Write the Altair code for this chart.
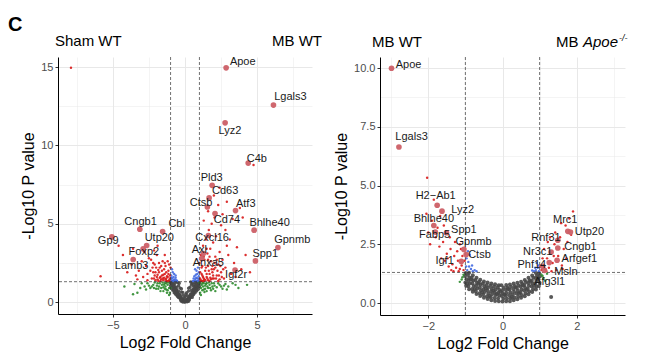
import altair as alt
import pandas as pd

# ---------------- Left panel: Sham WT vs MB WT ----------------
L_grey = [(0,0.02),(0.05,0.05),(-0.05,0.04),(0.1,0.08),(-0.1,0.1),(0.15,0.15),(-0.15,0.12),(0.2,0.12),(-0.2,0.2),
          (0.25,0.25),(-0.25,0.18),(0.3,0.2),(-0.3,0.3),(0.35,0.35),(-0.35,0.25),(0.4,0.3),(-0.4,0.45),(0.45,0.5),
          (-0.45,0.3),(0.5,0.4),(-0.5,0.55),(0.55,0.6),(-0.55,0.4),(0.6,0.5),(-0.6,0.7),(0.65,0.75),(-0.65,0.5),
          (0.7,0.6),(-0.7,0.85),(0.75,0.9),(-0.75,0.6),(0.8,0.7),(-0.8,1.0),(0.85,1.05),(-0.85,0.75),(0.9,0.8),
          (-0.9,1.15),(0.95,1.2),(-0.95,0.9),(1.0,1.0),(-1.0,1.25),(0.12,0.03),(-0.12,0.06),(0.22,0.18),(-0.22,0.14),
          (0.32,0.28),(-0.32,0.22),(0.42,0.4),(-0.42,0.35),(0.52,0.5),(-0.52,0.45),(0.62,0.65),(-0.62,0.58),
          (0.72,0.78),(-0.72,0.7),(0.82,0.92),(-0.82,0.88),(0.92,1.1),(-0.92,1.05),(0.97,1.28),(-0.97,1.2),
          (0.88,1.25),(-0.88,1.28),(0.78,1.15),(-0.78,1.12),(0.68,1.0),(-0.68,0.95),(0.58,0.8),(-0.58,0.78),
          (0.48,0.65),(-0.48,0.6),(0.38,0.5),(-0.38,0.48),(0.28,0.35),(-0.28,0.33),(0.18,0.22),(-0.18,0.2),
          (0.08,0.12),(-0.08,0.1),(0.02,0.08),(-0.02,0.01),
          (-0.25,0.05),(0.25,0.06),(-0.15,0.0),(0.15,0.02),(0,0.15),(0.3,0.15),(-0.3,0.12),
          (-0.5,0.35),(0.5,0.3),(-0.35,0.4),(0.35,0.42),(0,0.35),(-0.15,0.45),(0.15,0.4),(-0.55,0.5),(0.55,0.45),
          (0.05,0.5),(-0.05,0.28),(-0.7,0.65),(0.7,0.7),(-0.45,0.7),(0.45,0.75),(-0.25,0.65),(0.25,0.7),(-0.6,0.8),
          (0.6,0.8),(-0.8,0.8),(0.8,0.85),(-0.15,0.62),(0.12,0.6),(-0.9,0.95),(0.9,1.0),(-0.6,0.95),(0.6,1.0),
          (-0.35,0.9),(0.35,0.95),(-0.75,1.05),(0.75,1.05),(-0.45,1.05),(0.45,1.1),(-0.25,0.85),(0.25,0.88),
          (-0.95,1.15),(0.95,1.1),(-0.7,1.2),(0.7,1.25),(-0.5,1.25),(0.5,1.2),(-0.85,1.3),(0.85,1.3),(-0.4,1.2),
          (0.4,1.28),(-0.6,1.3),(0.6,1.15),(-1.0,1.05),(1.0,1.2)]
L_green = [(-1.1,0.9),(-1.2,1.1),(-1.3,0.8),(-1.4,1.2),(-1.5,0.95),(-1.6,1.1),(-1.7,0.7),(-1.8,1.0),(-1.9,1.2),
           (-2.0,0.85),(-2.2,1.1),(-2.4,0.9),(-2.6,1.2),(-2.8,1.0),(-3.1,0.9),(-3.5,1.15),(-4.2,1.0),(-1.15,1.25),
           (-1.35,1.0),(-1.25,0.6),(1.1,0.9),(1.2,1.2),(1.3,0.8),(1.4,1.05),(1.5,1.2),(1.6,0.9),(1.7,1.1),
           (1.8,0.75),(1.9,1.0),(2.0,1.2),(2.2,0.95),(2.4,1.1),(2.6,0.85),(2.8,1.15),(3.0,1.0),(3.3,1.2),
           (3.7,0.9),(1.15,1.1),(1.35,0.65),(1.25,1.0),(2.1,0.7),(4.3,1.1),
           (-1.05,0.6),(-1.1,0.45),(-1.2,0.75),(-1.3,1.2),(-1.4,0.85),(-1.5,0.7),(-1.55,1.25),(-1.65,0.9),
           (-1.75,1.2),(-1.85,0.85),(-1.95,1.05),(-2.1,1.25),(-2.15,0.9),(-2.3,1.0),(-2.5,1.05),(-2.7,0.8),
           (-3.0,1.2),(-3.3,0.6),(-3.6,0.5),(-1.0,0.9),(-1.45,1.1),(-1.25,1.3),
           (1.05,0.6),(1.1,0.45),(1.2,0.75),(1.3,1.2),(1.4,0.85),(1.5,0.7),(1.55,1.0),(1.65,1.25),(1.75,0.9),
           (1.85,1.2),(1.95,0.85),(2.05,1.05),(2.3,1.2),(2.5,1.0),(2.7,1.05),(1.0,1.25),(1.45,1.15),(1.25,1.3),
           (2.9,0.8),(3.5,1.1)]
L_blue = [(-0.7,1.4),(-0.8,1.6),(-0.9,1.5),(-0.6,1.4),(-0.85,1.9),(-0.95,1.7),(-0.75,1.45),(-0.9,2.1),(0.7,1.4),
          (0.8,1.55),(0.9,1.5),(0.65,1.35),(0.85,1.8),(0.95,1.65),(0.75,1.5),(0.9,2.2),(0.6,1.5),(-0.65,1.55),
          (0.95,1.4),(-0.95,1.4),(-0.75,1.8),(-0.65,1.7),(-0.7,1.35),(-0.95,1.55),(-0.82,1.35),(0.75,1.75),
          (0.65,1.65),(0.8,2.0),(0.97,1.9),(0.85,1.35),(0.7,2.1),(-0.55,1.35),(0.55,1.35)]
L_red = [(-1.1,1.4),(-1.2,1.6),(-1.3,1.5),(-1.4,1.8),(-1.5,1.4),(-1.6,2.0),(-1.7,1.6),(-1.8,1.9),(-1.9,1.45),
         (-2.0,2.2),(-2.1,1.7),(-2.2,2.5),(-2.3,1.5),(-2.4,2.0),(-2.5,2.8),(-2.6,1.8),(-2.7,2.3),(-2.9,1.6),
         (-3.0,2.6),(-3.2,2.0),(-3.4,1.7),(-3.7,2.4),(-4.0,1.9),(-4.3,3.0),(-5.85,1.65),(-1.15,2.0),(-1.35,2.3),
         (-1.55,2.6),(-1.75,2.2),(-1.95,3.0),(-2.15,3.3),(-2.35,2.7),(-1.25,1.35),(-1.45,1.55),(-1.65,1.45),
         (-1.85,1.35),(-2.05,1.4),(-1.05,1.7),(-1.2,2.6),(-2.8,3.2),(-3.6,3.4),(-4.6,3.6),(-1.9,3.6),(-1.4,3.0),
         (-2.6,1.4),(-3.3,1.45),(-1.1,2.4),(-1.3,1.9),(-2.2,1.9),(-1.6,1.7),
         (-1.05,1.5),(-1.15,1.8),(-1.25,1.65),(-1.35,1.45),(-1.45,2.1),(-1.55,1.5),(-1.65,2.3),(-1.75,1.55),
         (-1.85,2.05),(-1.95,1.6),(-2.05,1.9),(-2.15,1.5),(-2.25,2.2),(-1.1,1.35),(-1.3,1.35),(-1.5,1.75),
         (-1.7,1.35),(-1.9,1.75),(-2.1,2.4),(-1.0,2.2),(-1.4,2.5),(-1.8,2.5),
         (1.1,1.4),(1.2,1.7),(1.3,1.5),(1.4,2.0),(1.5,1.6),(1.6,2.3),(1.7,1.8),(1.8,2.6),(1.9,1.5),(2.0,2.1),
         (2.1,2.9),(2.2,1.7),(2.3,2.4),(2.4,3.2),(2.5,1.9),(2.6,2.7),(2.8,2.2),(3.0,3.0),(3.2,1.8),(3.4,2.5),
         (3.6,3.5),(3.9,2.1),(4.2,3.0),(4.5,1.9),(1.15,2.2),(1.35,2.7),(1.55,3.1),(1.75,3.4),(1.95,3.8),
         (2.15,4.2),(1.25,3.6),(1.45,4.0),(1.65,4.6),(1.85,5.0),(2.05,5.4),(1.3,5.2),(1.6,5.8),(2.3,6.2),
         (2.6,5.6),(2.0,6.8),(2.4,7.3),(2.9,6.4),(3.3,5.3),(3.8,6.0),(4.0,5.4),(2.8,4.6),(3.1,4.0),(2.5,4.9),
         (1.1,3.0),(1.05,1.9),(1.2,1.35),(1.4,1.4),(1.6,1.4),(1.8,1.45),(2.0,1.5),(2.3,1.35),(2.7,1.5),
         (3.5,1.6),(1.7,2.9),(2.9,3.6),(4.75,8.75),(-7.9,14.95),
         (1.05,1.5),(1.15,1.8),(1.25,1.6),(1.35,1.45),(1.45,2.2),(1.55,1.5),(1.65,2.0),(1.75,1.55),(1.85,2.1),
         (1.95,1.7),(2.05,2.5),(2.15,1.5),(2.25,2.0),(2.35,1.7),(2.45,2.3),(2.55,1.6),(2.65,2.1),(1.1,1.35),
         (1.3,1.35),(1.5,1.8),(1.7,1.35),(1.9,1.9),(2.1,2.2),(1.0,2.5),(1.3,2.9),(1.6,2.7),(1.9,2.3),(2.2,2.7),
         (2.4,1.45),(1.2,2.3),(1.5,3.4)]
# labelled genes: name, fold change, -log10 p, label x, label y
L_genes = [("Apoe",2.85,14.95,4.0,15.35),("Lgals3",6.13,12.57,7.3,13.08),("Lyz2",2.78,11.44,3.12,10.9),
           ("C4b",4.38,8.87,4.98,9.15),("Pld3",1.88,7.45,1.85,7.94),("Cd63",1.67,6.65,2.78,7.09),
           ("Ctsb",1.55,6.07,1.11,6.35),("Atf3",3.5,5.84,4.21,6.29),("Cd74",2.08,5.65,2.9,5.22),
           ("Bhlhe40",4.79,4.59,5.86,5.05),("Gpnmb",6.44,3.48,7.43,3.95),("Spp1",4.88,2.63,5.56,3.04),
           ("Cxcl16",1.62,4.25,1.88,4.12),("Axl",1.27,3.1,0.99,3.31),("Anxa5",1.16,2.78,1.62,2.5),
           ("Igf2r",3.47,2.04,3.54,1.72),("Cngb1",-3.13,4.65,-3.08,5.11),("Cbl",-1.55,4.5,-0.58,4.97),
           ("Gp9",-5.07,4.16,-5.32,3.89),("Utp20",-2.66,3.61,-1.78,4.08),("Foxp2",-2.9,3.4,-2.85,3.2),
           ("Lamb3",-3.59,2.72,-3.7,2.31)]

# ---------------- Right panel: MB WT vs MB Apoe-/- ----------------
R_grey = [(0.0,0.06),(0.02,0.18),(-0.02,0.3),(0.01,0.42),(-0.01,0.54),(0.03,0.65),(-0.03,0.76),
          (0.1,0.07),(0.12,0.19),(0.08,0.31),(0.11,0.43),(0.09,0.55),(0.13,0.66),(0.1,0.77),
          (-0.1,0.08),(-0.12,0.2),(-0.08,0.32),(-0.11,0.44),(-0.09,0.56),(-0.13,0.67),(-0.1,0.76),
          (0.2,0.08),(0.22,0.2),(0.18,0.33),(0.21,0.45),(0.19,0.57),(0.23,0.69),(0.2,0.79),
          (-0.2,0.09),(-0.22,0.21),(-0.18,0.34),(-0.21,0.46),(-0.19,0.58),(-0.23,0.7),(-0.2,0.8),
          (0.3,0.12),(0.32,0.24),(0.28,0.36),(0.31,0.48),(0.29,0.6),(0.33,0.72),(0.3,0.83),
          (-0.3,0.12),(-0.32,0.25),(-0.28,0.37),(-0.31,0.49),(-0.29,0.61),(-0.33,0.73),(-0.3,0.83),
          (0.4,0.16),(0.42,0.28),(0.38,0.4),(0.41,0.52),(0.39,0.64),(0.43,0.76),(0.4,0.86),
          (-0.4,0.17),(-0.42,0.29),(-0.38,0.41),(-0.41,0.53),(-0.39,0.65),(-0.43,0.77),(-0.4,0.87),
          (0.5,0.22),(0.52,0.34),(0.48,0.46),(0.51,0.58),(0.49,0.7),(0.53,0.82),(0.5,0.91),
          (-0.5,0.22),(-0.52,0.35),(-0.48,0.47),(-0.51,0.59),(-0.49,0.71),(-0.53,0.83),(-0.5,0.92),
          (0.6,0.29),(0.62,0.41),(0.58,0.53),(0.61,0.65),(0.59,0.77),(0.63,0.89),(0.6,0.98),
          (-0.6,0.3),(-0.62,0.42),(-0.58,0.54),(-0.61,0.66),(-0.59,0.78),(-0.63,0.9),(-0.6,0.99),
          (0.7,0.37),(0.72,0.49),(0.68,0.61),(0.71,0.73),(0.69,0.85),(0.73,0.97),(0.7,1.07),
          (-0.7,0.38),(-0.72,0.5),(-0.68,0.62),(-0.71,0.74),(-0.69,0.86),(-0.73,0.98),(-0.7,1.08),
          (0.8,0.47),(0.82,0.59),(0.78,0.71),(0.81,0.83),(0.79,0.95),(0.83,1.07),(0.8,1.17),
          (-0.8,0.48),(-0.82,0.6),(-0.78,0.72),(-0.81,0.84),(-0.79,0.96),(-0.83,1.08),(-0.8,1.18),
          (0.9,0.58),(0.92,0.7),(0.88,0.82),(0.91,0.94),(0.89,1.06),(0.93,1.18),(0.9,1.28),
          (-0.9,0.59),(-0.92,0.71),(-0.88,0.83),(-0.91,0.95),(-0.89,1.07),(-0.93,1.19),(-0.9,1.29),
          (0.98,0.72),(1.0,0.86),(0.97,1.0),(1.01,1.14),(0.99,1.27),
          (-0.98,0.73),(-1.0,0.87),(-0.97,1.01),(-1.01,1.15),(-0.99,1.28),
          (0.05,0.36),(-0.05,0.48),(0.15,0.6),(-0.15,0.38),(0.25,0.26),(-0.25,0.52),(0.35,0.66),(-0.35,0.3),
          (0.45,0.4),(-0.45,0.62),(0.55,0.75),(-0.55,0.45),(0.65,0.55),(-0.65,0.82),(0.75,0.9),(-0.75,0.6),
          (0.85,0.72),(-0.85,1.0),(0.95,1.1),(-0.95,0.82),(1.31,0.26)]
R_green = [(-1.1,1.0),(-1.05,1.2),(-1.15,0.9),(-1.08,1.1),(1.1,1.05),(1.05,1.2),(1.15,0.95),(1.08,1.15),(1.2,1.25)]
R_blue = [(-0.95,1.4),(-0.9,1.55),(-0.85,1.45),(-0.8,1.35),(-0.92,1.75),(-0.97,1.9),(-0.88,2.05),(-0.75,1.4),
          (-0.82,1.6),(-0.98,1.55),(-0.7,1.35),(-0.93,2.2),(0.9,1.4),(0.95,1.5),(0.85,1.35),(0.97,1.6),(0.92,1.7),
          (0.8,1.38),(0.88,1.5),(0.98,1.35)]
R_red = [(-1.05,1.4),(-1.1,1.6),(-1.15,1.45),(-1.2,1.8),(-1.25,1.5),(-1.3,2.0),(-1.35,1.65),(-1.4,2.3),(-1.45,1.55),
         (-1.5,2.1),(-1.55,1.8),(-1.6,2.6),(-1.65,1.9),(-1.7,2.4),(-1.75,3.2),(-1.8,2.8),(-1.9,3.5),(-2.0,3.0),
         (-2.05,3.8),(-1.08,2.0),(-1.12,2.3),(-1.18,1.35),(-1.28,2.6),(-1.38,1.4),(-1.42,2.8),(-1.58,3.3),
         (-1.68,3.7),(-1.85,4.4),(-2.03,5.33),(-1.22,2.2),(-1.32,1.35),(-1.48,1.9),(-1.95,2.5),(-1.02,1.8),(-1.15,2.5),
         (1.05,1.4),(1.1,1.6),(1.15,1.45),(1.2,1.9),(1.25,1.5),(1.3,2.1),(1.35,1.7),(1.4,2.5),(1.45,1.4),(1.5,2.0),
         (1.55,2.8),(1.6,1.6),(1.65,2.3),(1.7,3.3),(1.75,2.6),(1.8,3.6),(1.85,2.9),(1.9,3.9),(1.12,2.3),(1.22,2.6),
         (1.32,1.35),(1.42,3.0),(1.58,3.4),(1.08,1.9),(1.18,1.35),(1.28,2.8),(1.38,2.0),(1.62,1.45),(1.72,1.9),(1.02,1.55)]
R_genes = [("Apoe",-2.99,9.99,-2.53,10.11),("Lgals3",-2.79,6.64,-2.45,7.06),("H2\u2212Ab1",-1.76,4.16,-1.8,4.54),
           ("Lyz2",-1.63,3.91,-1.07,3.97),("Bhlhe40",-1.85,3.3,-1.85,3.56),("Fabp5",-1.81,3.02,-1.83,2.88),
           ("Spp1",-1.51,2.99,-1.04,3.09),("Gpnmb",-1.04,2.28,-0.78,2.6),("Ctsb",-0.98,2.06,-0.62,2.03),
           ("Igf1",-1.11,1.77,-1.56,1.77),("Mrc1",1.76,3.05,1.69,3.55),("Utp20",1.83,3.02,2.34,3.02),
           ("Rnf31",1.49,2.67,1.17,2.77),("Cngb1",1.49,2.34,2.1,2.38),("Nr3c1",1.31,2.17,0.95,2.17),
           ("Arfgef1",1.47,1.82,2.07,1.89),("Phf14",1.08,1.56,0.79,1.6),("Msln",1.26,1.72,1.71,1.32),
           ("Afg3l1",1.13,1.39,1.27,0.89)]

FC_CUTOFF = [-1, 1]
P_CUTOFF = [1.30103]

FONT = "Liberation Sans"
GREY, GREEN, BLUE, RED, HIT = "#474747", "#2e8b2e", "#4169e1", "#d81818", "#cc5f66"


def pts(lst):
    return pd.DataFrame(lst, columns=["x", "y"])


def panel(grey, green, blue, red, genes, xdom, ydom, xvals, yvals, xmaj, ymaj, yfmt, w, h, sizes):
    minor_x = f"datum.value % {xmaj} !== 0"
    minor_y = f"datum.value % {ymaj} !== 0"
    xaxis = alt.Axis(title="Log2 Fold Change", values=xvals,
                     labelExpr=f"datum.value % {xmaj} === 0 ? format(datum.value, 'd') : ''",
                     tickOpacity={"condition": {"test": minor_x, "value": 0}, "value": 1},
                     gridWidth={"condition": {"test": minor_x, "value": 0.5}, "value": 1.0},
                     titlePadding=4)
    yaxis = alt.Axis(title="-Log10 P value", values=yvals,
                     labelExpr=f"datum.value % {ymaj} === 0 ? format(datum.value, '{yfmt}') : ''",
                     tickOpacity={"condition": {"test": minor_y, "value": 0}, "value": 1},
                     gridWidth={"condition": {"test": minor_y, "value": 0.5}, "value": 1.0},
                     titlePadding=4)
    X = alt.X("x:Q", scale=alt.Scale(domain=xdom, nice=False, zero=False), axis=xaxis)
    Y = alt.Y("y:Q", scale=alt.Scale(domain=ydom, nice=False, zero=False), axis=yaxis)
    gs, cs, hs = sizes
    layers = [
        alt.Chart(pts(grey)).mark_circle(color=GREY, size=gs, opacity=0.9).encode(x=X, y=Y),
        alt.Chart(pts(green)).mark_circle(color=GREEN, size=cs, opacity=0.9).encode(x=X, y=Y),
        alt.Chart(pts(blue)).mark_circle(color=BLUE, size=cs, opacity=0.9).encode(x=X, y=Y),
        alt.Chart(pts(red)).mark_circle(color=RED, size=cs, opacity=0.9).encode(x=X, y=Y),
        alt.Chart(pd.DataFrame({"x": FC_CUTOFF})).mark_rule(color="#333333", strokeDash=[3, 2], strokeWidth=0.7).encode(x=X),
        alt.Chart(pd.DataFrame({"y": P_CUTOFF})).mark_rule(color="#333333", strokeDash=[3, 2], strokeWidth=0.7).encode(y=Y),
    ]
    gdf = pd.DataFrame(genes, columns=["gene", "x", "y", "lx", "ly"])
    layers.append(alt.Chart(gdf).mark_circle(color=HIT, size=hs, opacity=0.95).encode(x=X, y=Y))
    ldf = gdf[["gene", "lx", "ly"]].rename(columns={"lx": "x", "ly": "y"})
    layers.append(alt.Chart(ldf).mark_text(font=FONT, fontSize=11, color="#1a1a1a").encode(x=X, y=Y, text="gene:N"))
    return layers, w, h


one = pd.DataFrame({"a": [0]})


def note(text, x, y, size=15, align="left", style="normal", weight="normal"):
    return alt.Chart(one).mark_text(text=text, font=FONT, fontSize=size, align=align, baseline="alphabetic",
                                    fontStyle=style, fontWeight=weight, color="black").encode(
        x=alt.value(x), y=alt.value(y))


l_layers, lw, lh = panel(L_grey, L_green, L_blue, L_red, L_genes, [-8.8, 8.8], [-0.76, 15.64],
                         [-7.5, -5, -2.5, 0, 2.5, 5, 7.5], [0, 2.5, 5, 7.5, 10, 12.5, 15], 5, 5, "d",
                         254, 257, (12, 6, 32))
l_layers += [note("C", -50, -26, size=20, weight="bold"), note("Sham WT", -3, -11),
             note("MB WT", 264, -11, align="right")]
left = alt.layer(*l_layers).properties(width=lw, height=lh)

r_layers, rw, rh = panel(R_grey, R_green, R_blue, R_red, R_genes, [-3.3, 3.3], [-0.51, 10.47],
                         [-3, -2, -1, 0, 1, 2, 3], [0, 1.25, 2.5, 3.75, 5, 6.25, 7.5, 8.75, 10], 2, 2.5, ".1f",
                         245, 258, (16, 6, 32))
r_layers += [note("MB WT", -8, -10), note("MB", 176, -10), note("Apoe", 203, -10, style="italic"),
             note("-/-", 239, -16, size=9, style="italic")]
right = alt.layer(*r_layers).properties(width=rw, height=rh)

chart = alt.hconcat(left, right, spacing=11).configure_view(stroke=None).configure_axis(
    domainColor="black", domainWidth=1, tickColor="#333333", tickSize=3, labelFont=FONT, labelFontSize=11,
    labelColor="#4d4d4d", titleFont=FONT, titleFontSize=16, titleFontWeight="normal", titleColor="black",
    gridColor="#e8e8e8", labelPadding=2
).properties(padding={"left": 0, "top": 7, "right": 2, "bottom": 2})

chart.save("out.html", embed_options={"renderer": "svg", "actions": False})
